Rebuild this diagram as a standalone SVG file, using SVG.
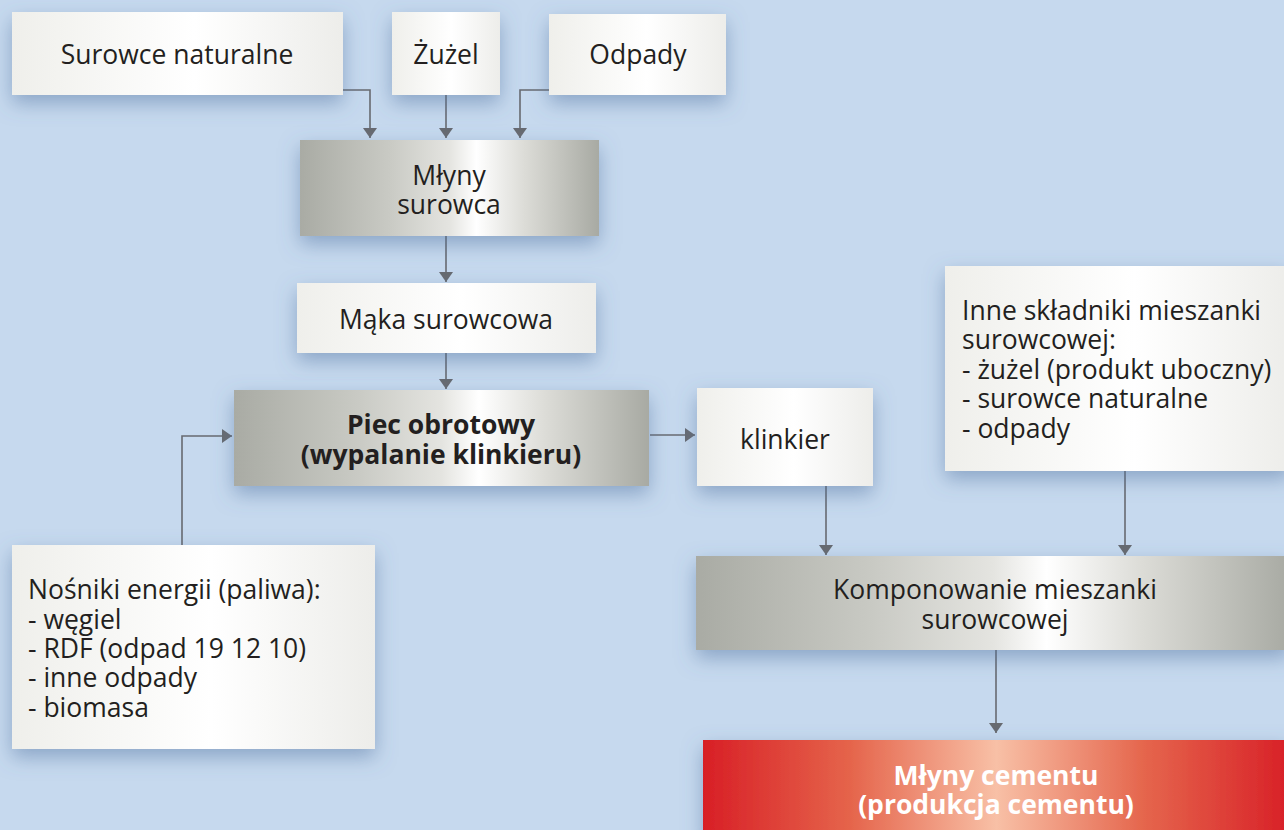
<svg xmlns="http://www.w3.org/2000/svg" width="1284" height="830" viewBox="0 0 1284 830">
  <defs>
    <linearGradient id="light" x1="0" y1="0" x2="1" y2="0">
      <stop offset="0" stop-color="#efefeb"/>
      <stop offset="0.55" stop-color="#ffffff"/>
      <stop offset="1" stop-color="#ededea"/>
    </linearGradient>
    <linearGradient id="steel" x1="0" y1="0" x2="1" y2="0">
      <stop offset="0" stop-color="#a9aba4"/>
      <stop offset="0.3" stop-color="#c9cac4"/>
      <stop offset="0.5" stop-color="#e4e4e0"/>
      <stop offset="0.59" stop-color="#ffffff"/>
      <stop offset="0.75" stop-color="#dcdcd7"/>
      <stop offset="1" stop-color="#a8aaa3"/>
    </linearGradient>
    <linearGradient id="red" x1="0" y1="0" x2="1" y2="0">
      <stop offset="0" stop-color="#d81f26"/>
      <stop offset="0.25" stop-color="#e5644b"/>
      <stop offset="0.5" stop-color="#f8c0a6"/>
      <stop offset="0.75" stop-color="#e5664d"/>
      <stop offset="1" stop-color="#d82027"/>
    </linearGradient>
    <filter id="shadow" x="-20%" y="-30%" width="140%" height="170%">
      <feDropShadow dx="0" dy="8" stdDeviation="10" flood-color="#4e6f9e" flood-opacity="0.5"/>
    </filter>
    <marker id="arrow" viewBox="0 0 10 14" refX="10" refY="7" markerWidth="10" markerHeight="14" markerUnits="userSpaceOnUse" orient="auto">
      <path d="M0,0 L10,7 L0,14 Z" fill="#676a70"/>
    </marker>
  </defs>
  <style>
    text { font-family: "Open Sans", "Noto Sans", "DejaVu Sans", sans-serif; font-size: 26.5px; fill: #231f20; }
    .c { text-anchor: middle; }
    .b { font-weight: 700; }
    .w { fill: #ffffff; }
    .box { filter: url(#shadow); }
    .conn { fill: none; stroke: #676a70; stroke-width: 1.6; marker-end: url(#arrow); }
  </style>

  <rect width="1284" height="830" fill="#c6d9ee"/>

  <g id="connectors">
    <path class="conn" d="M343,90 H370 V138"/>
    <path class="conn" d="M446,95 V138"/>
    <path class="conn" d="M549,90 H520 V138"/>
    <path class="conn" d="M446,236 V282"/>
    <path class="conn" d="M446,353 V389"/>
    <path class="conn" d="M650,435 H695"/>
    <path class="conn" d="M182,545 V436 H232"/>
    <path class="conn" d="M826,486 V555"/>
    <path class="conn" d="M1125,471 V555"/>
    <path class="conn" d="M996,650 V733"/>
  </g>

  <g id="surowce-naturalne">
    <rect class="box" x="12" y="12" width="331" height="83" fill="url(#light)"/>
    <text class="c" x="177" y="64">Surowce naturalne</text>
  </g>
  <g id="zuzel">
    <rect class="box" x="392" y="12" width="108" height="83" fill="url(#light)"/>
    <text class="c" x="446" y="64">Żużel</text>
  </g>
  <g id="odpady">
    <rect class="box" x="549" y="14" width="177" height="81" fill="url(#light)"/>
    <text class="c" x="638" y="64">Odpady</text>
  </g>
  <g id="mlyny-surowca">
    <rect class="box" x="300" y="140" width="299" height="96" fill="url(#steel)"/>
    <text class="c" x="449" y="185">Młyny</text>
    <text class="c" x="449" y="214">surowca</text>
  </g>
  <g id="maka-surowcowa">
    <rect class="box" x="297" y="283" width="299" height="70" fill="url(#light)"/>
    <text class="c" x="446" y="329">Mąka surowcowa</text>
  </g>
  <g id="piec-obrotowy">
    <rect class="box" x="234" y="390" width="415" height="96" fill="url(#steel)"/>
    <text class="c b" x="441" y="434">Piec obrotowy</text>
    <text class="c b" x="441" y="464">(wypalanie klinkieru)</text>
  </g>
  <g id="klinkier">
    <rect class="box" x="697" y="388" width="176" height="98" fill="url(#light)"/>
    <text class="c" x="785" y="449">klinkier</text>
  </g>
  <g id="nosniki-energii">
    <rect class="box" x="12" y="545" width="363" height="204" fill="url(#light)"/>
    <text x="28" y="599">Nośniki energii (paliwa):</text>
    <text x="28" y="629">- węgiel</text>
    <text x="28" y="658">- RDF (odpad 19 12 10)</text>
    <text x="28" y="687">- inne odpady</text>
    <text x="28" y="717">- biomasa</text>
  </g>
  <g id="inne-skladniki">
    <rect class="box" x="945" y="266" width="345" height="205" fill="url(#light)"/>
    <text x="962" y="320">Inne składniki mieszanki</text>
    <text x="962" y="349">surowcowej:</text>
    <text x="962" y="379">- żużel (produkt uboczny)</text>
    <text x="962" y="408">- surowce naturalne</text>
    <text x="962" y="438">- odpady</text>
  </g>
  <g id="komponowanie">
    <rect class="box" x="696" y="556" width="594" height="94" fill="url(#steel)"/>
    <text class="c" x="995" y="599">Komponowanie mieszanki</text>
    <text class="c" x="995" y="629">surowcowej</text>
  </g>
  <g id="mlyny-cementu">
    <rect class="box" x="703" y="740" width="587" height="100" fill="url(#red)"/>
    <text class="c b w" x="996" y="785">Młyny cementu</text>
    <text class="c b w" x="996" y="814">(produkcja cementu)</text>
  </g>
</svg>
